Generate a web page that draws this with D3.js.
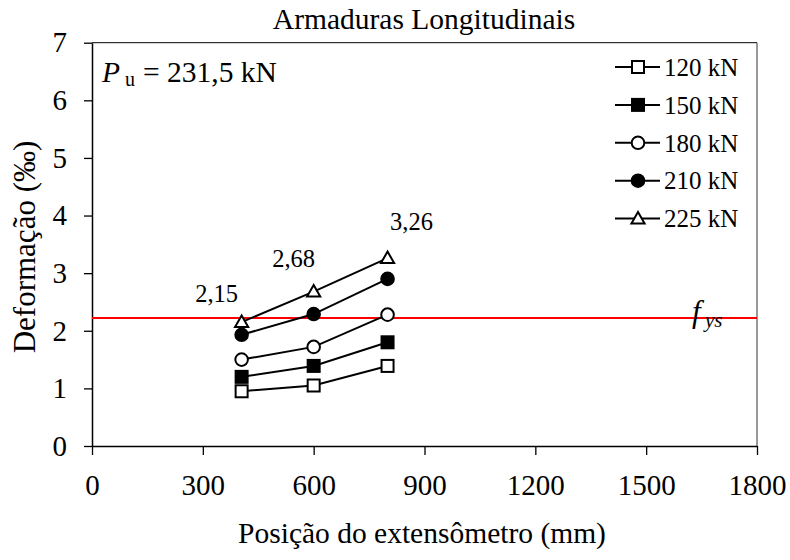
<!DOCTYPE html>
<html><head><meta charset="utf-8"><script src="https://cdn.jsdelivr.net/npm/d3@7"></script></head>
<body style="margin:0">
<svg id="chart" width="790" height="560"></svg>
<script>
// ---- data ----
const positions = [405, 600, 800];                 // posição do extensômetro (mm)
const loadLabels = ["120 kN", "150 kN", "180 kN", "210 kN", "225 kN"];
const s120 = [0.95, 1.05, 1.39];
const s150 = [1.20, 1.39, 1.80];
const s180 = [1.50, 1.72, 2.28];
const s210 = [1.93, 2.29, 2.90];
const s225 = [2.15, 2.68, 3.26];
const yieldStrain = 2.22;                           // f_ys
const xTicks = [0, 300, 600, 900, 1200, 1500, 1800];
const yTicks = [0, 1, 2, 3, 4, 5, 6, 7];
const title = "Armaduras Longitudinais";
const xTitle = "Posição do extensômetro (mm)";
const yTitle = "Deformação (‰)";

const FONT = "Liberation Serif";

const series = [
  { label: loadLabels[0], values: s120, shape: "square", filled: false },
  { label: loadLabels[1], values: s150, shape: "square", filled: true },
  { label: loadLabels[2], values: s180, shape: "circle", filled: false },
  { label: loadLabels[3], values: s210, shape: "circle", filled: true },
  { label: loadLabels[4], values: s225, shape: "triangle", filled: false }
];

// ---- layout ----
const svg = d3.select("#chart");
const L = 92, R = 757, T = 42.7, B = 446;
const x = d3.scaleLinear().domain([0, 1800]).range([L, R]);
const y = d3.scaleLinear().domain([0, 7]).range([B, T]);

function txt(sel) { return sel.style("font-family", FONT); }

// frame top/right
svg.append("line").attr("x1", L).attr("x2", R).attr("y1", T).attr("y2", T)
  .attr("stroke", "#000").attr("stroke-width", 1);
svg.append("line").attr("x1", R).attr("x2", R).attr("y1", T).attr("y2", B)
  .attr("stroke", "#555").attr("stroke-width", 1.2);

// axes
const xAxis = svg.append("g").attr("transform", `translate(0,${B})`)
  .call(d3.axisBottom(x).tickValues(xTicks).tickSizeInner(9).tickSizeOuter(0).tickPadding(19)
    .tickFormat(d3.format("d")));
const yAxis = svg.append("g").attr("transform", `translate(${L},0)`)
  .call(d3.axisLeft(y).tickValues(yTicks).tickSizeInner(8).tickSizeOuter(0).tickPadding(17)
    .tickFormat(d3.format("d")));
[xAxis, yAxis].forEach(g => {
  g.attr("font-family", null).attr("font-size", null);
  g.select(".domain").attr("stroke", "#000").attr("stroke-width", 1.5);
  g.selectAll(".tick line").attr("stroke", "#000").attr("stroke-width", 1.3);
  txt(g.selectAll(".tick text")).attr("font-size", 29).attr("fill", "#000");
});

// yield line
svg.append("line").attr("x1", L).attr("x2", R)
  .attr("y1", y(yieldStrain)).attr("y2", y(yieldStrain))
  .attr("stroke", "#ff0000").attr("stroke-width", 2);

// marker drawing
function drawMarker(g, shape, filled, cx, cy) {
  const fill = filled ? "#000" : "#fff";
  if (shape === "square") {
    g.append("rect").attr("x", cx - 6).attr("y", cy - 6).attr("width", 12).attr("height", 12)
      .attr("fill", fill).attr("stroke", "#000").attr("stroke-width", 2);
  } else if (shape === "circle") {
    g.append("circle").attr("cx", cx).attr("cy", cy).attr("r", 6.3)
      .attr("fill", fill).attr("stroke", "#000").attr("stroke-width", 2);
  } else {
    g.append("path").attr("d", d3.symbol(d3.symbolTriangle, 75)())
      .attr("transform", `translate(${cx},${cy + 1})`)
      .attr("fill", fill).attr("stroke", "#000").attr("stroke-width", 2);
  }
}

const line = d3.line().x((d, i) => x(positions[i])).y(d => y(d));
series.forEach(s => {
  svg.append("path").datum(s.values).attr("d", line)
    .attr("fill", "none").attr("stroke", "#000").attr("stroke-width", 2);
});
series.forEach(s => {
  const g = svg.append("g");
  s.values.forEach((v, i) => drawMarker(g, s.shape, s.filled, x(positions[i]), y(v)));
});

// annotations on 225 kN series
const fmt = v => d3.format(".2f")(v).replace(".", ",");
const annDx = [-25, -20, 24], annDy = [-20, -25, -28];
txt(svg.append("g").selectAll("text").data(s225).join("text"))
  .attr("x", (d, i) => x(positions[i]) + annDx[i])
  .attr("y", (d, i) => y(d) + annDy[i])
  .attr("text-anchor", "middle").attr("font-size", 24.5)
  .text(d => fmt(d));

// legend
const legX0 = 615, legX1 = 660, legMx = 638, legTx = 664, legY0 = 67, legDy = 37.9;
series.forEach((s, i) => {
  const ly = legY0 + i * legDy;
  svg.append("line").attr("x1", legX0).attr("x2", legX1).attr("y1", ly).attr("y2", ly)
    .attr("stroke", "#000").attr("stroke-width", 2);
  drawMarker(svg.append("g"), s.shape, s.filled, legMx, ly);
  txt(svg.append("text")).attr("x", legTx).attr("y", ly).attr("dy", "0.35em")
    .attr("font-size", 25).text(s.label);
});

// Pu text
const pu = txt(svg.append("text")).attr("x", 102).attr("y", 82).attr("font-size", 29.5);
pu.append("tspan").attr("font-style", "italic").text("P");
pu.append("tspan").attr("x", 125).attr("dy", 4).attr("font-size", 20).text("u");
pu.append("tspan").attr("x", 143).attr("dy", -4).text("= 231,5 kN");

// fys label
const fy = txt(svg.append("text")).attr("x", 692).attr("y", 322).attr("font-size", 31).attr("font-style", "italic");
fy.append("tspan").text("f");
fy.append("tspan").attr("x", 705).attr("dy", 5).attr("font-size", 21).text("ys");

// titles
txt(svg.append("text")).attr("x", 424).attr("y", 29).attr("text-anchor", "middle")
  .attr("font-size", 29.5).text(title);
txt(svg.append("text")).attr("x", 422).attr("y", 543).attr("text-anchor", "middle")
  .attr("font-size", 29.5).text(xTitle);
txt(svg.append("text")).attr("transform", "translate(35,247) rotate(-90)")
  .attr("text-anchor", "middle").attr("font-size", 31).text(yTitle);
</script>
</body>
</html>
